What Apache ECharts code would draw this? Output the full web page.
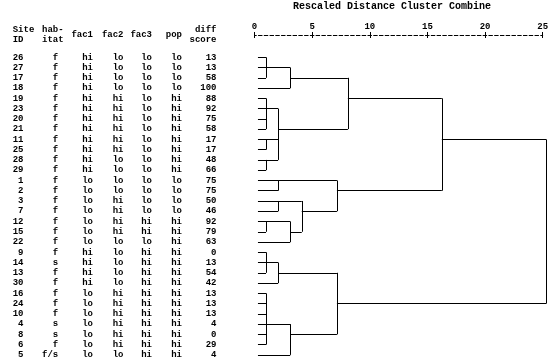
<!DOCTYPE html>
<html><head><meta charset="utf-8">
<script src="https://cdn.jsdelivr.net/npm/echarts@6/dist/echarts.min.js"></script>
<style>html,body{margin:0;padding:0;background:#fff}#c{width:552px;height:360px}</style>
</head><body><div id="c"></div>
<script>
// ---- data ----
const siteIds = ['26','27','17','18','19','23','20','21','11','25','28','29','1','2','3','7','12','15','22','9','14','13','30','16','24','10','4','8','6','5'];
const habitat = ['f','f','f','f','f','f','f','f','f','f','f','f','f','f','f','f','f','f','f','f','s','f','f','f','f','f','s','s','f','f/s'];
const fac1 = ['hi','hi','hi','hi','hi','hi','hi','hi','hi','hi','hi','hi','lo','lo','lo','lo','lo','lo','lo','hi','hi','hi','hi','lo','lo','lo','lo','lo','lo','lo'];
const fac2 = ['lo','lo','lo','lo','hi','hi','hi','hi','hi','hi','lo','lo','lo','lo','hi','hi','hi','hi','lo','lo','lo','lo','lo','hi','hi','hi','hi','hi','hi','lo'];
const fac3 = ['lo','lo','lo','lo','lo','lo','lo','lo','lo','lo','lo','lo','lo','lo','lo','lo','hi','hi','lo','hi','hi','hi','hi','hi','hi','hi','hi','hi','hi','hi'];
const pop = ['lo','lo','lo','lo','hi','hi','hi','hi','hi','hi','hi','hi','lo','lo','lo','lo','hi','hi','hi','hi','hi','hi','hi','hi','hi','hi','hi','hi','hi','hi'];
const diffScore = ['13','13','58','100','88','92','75','58','17','17','48','66','75','75','50','46','92','79','63','0','13','54','42','13','13','13','4','0','29','4'];
const distTicks = [0, 5, 10, 15, 20, 25];
const leafStart = 0.3;
// merges: children are leaf row indices (numbers) or earlier merge ids; dist = rescaled distance; row = row the joined cluster continues on
const merges = [
  {id:'n1', children:[0,1,2], dist:1.0, row:1},
  {id:'n2', children:['n1',3], dist:3.1, row:2},
  {id:'n3', children:[4,5,6,7], dist:1.0, row:5},
  {id:'n4', children:[8,9], dist:1.0, row:8},
  {id:'n5', children:[10,11], dist:1.0, row:10},
  {id:'n6', children:['n3','n4','n5'], dist:2.05, row:7},
  {id:'n7', children:['n2','n6'], dist:8.1, row:4},
  {id:'n8', children:[12,13], dist:2.05, row:12},
  {id:'n9', children:[14,15], dist:2.05, row:14},
  {id:'n10', children:[16,17], dist:1.0, row:16},
  {id:'n11', children:['n10',18], dist:3.1, row:17},
  {id:'n12', children:['n9','n11'], dist:4.1, row:15},
  {id:'n13', children:['n8','n12'], dist:7.15, row:13},
  {id:'n14', children:['n7','n13'], dist:16.25, row:8},
  {id:'n15', children:[19,20,21], dist:1.0, row:20},
  {id:'n16', children:['n15',22], dist:2.05, row:21},
  {id:'n17', children:[23,24,25,26,27,28], dist:1.0, row:26},
  {id:'n18', children:['n17',29], dist:3.1, row:27},
  {id:'n19', children:['n16','n18'], dist:7.15, row:24},
  {id:'n20', children:['n14','n19'], dist:25.3, row:null}
];

// ---- build segments ----
const nodes = {};
const segs = [];
merges.forEach(m => {
  const ys = [];
  m.children.forEach(c => {
    let x0, y;
    if (typeof c === 'number') { x0 = leafStart; y = c; }
    else { x0 = nodes[c].dist; y = nodes[c].row; }
    ys.push(y);
    segs.push({coords: [[x0, y], [m.dist, y]]});
  });
  segs.push({coords: [[m.dist, Math.min(...ys)], [m.dist, Math.max(...ys)]]});
  nodes[m.id] = m;
});

const FONT = '"Liberation Mono", "DejaVu Sans Mono", monospace';
const gridLeft = 254.5;
const rowsIdx = siteIds.map((_, i) => String(i));

function colAxis(data, x, align, name, fmt) {
  return {
    type: 'category', data: data, inverse: true, boundaryGap: false,
    position: 'left', offset: gridLeft - x,
    axisLine: {show: false, onZero: false}, axisTick: {show: false}, splitLine: {show: false},
    axisLabel: {interval: 0, margin: 0, align: align, fontFamily: FONT, fontSize: 9, fontWeight: 'bold', color: '#000',
      padding: [3, 0, 0, 0], formatter: fmt || (v => v)},
    name: name, nameLocation: 'start', nameGap: 22.5,
    nameTextStyle: {align: align, verticalAlign: 'middle', fontFamily: FONT, fontSize: 9, fontWeight: 'bold', color: '#000', lineHeight: 10}
  };
}

const chart = echarts.init(document.getElementById('c'), null, {renderer: 'canvas'});
chart.setOption({
  animation: false,
  backgroundColor: '#fff',
  title: {
    text: 'Rescaled Distance Cluster Combine', left: 392, top: 1, padding: 0, textAlign: 'center',
    textStyle: {fontFamily: FONT, fontSize: 10, fontWeight: 'bold', color: '#000'}
  },
  grid: {left: gridLeft, right: 9.3, top: 57.3, bottom: 5.1, containLabel: false, outerBoundsMode: 'none'},
  xAxis: [
    {type: 'value', position: 'top', offset: 22.3, min: 0, max: 25, interval: 5,
      axisLine: {show: true, onZero: false, lineStyle: {color: '#000', width: 1, type: [3.6, 2.16], dashOffset: 1.8}},
      axisTick: {show: true, inside: false, length: 3, lineStyle: {color: '#000', width: 1}},
      axisLabel: {margin: 4, fontFamily: FONT, fontSize: 9, fontWeight: 'bold', color: '#000', customValues: distTicks},
      splitLine: {show: false}},
    {type: 'value', position: 'top', offset: 22.3, min: 0, max: 25, interval: 5,
      axisLine: {show: false, onZero: false},
      axisTick: {show: true, inside: true, length: 3, lineStyle: {color: '#000', width: 1}},
      axisLabel: {show: false}, splitLine: {show: false}}
  ],
  yAxis: [
    {type: 'category', data: rowsIdx, inverse: true, boundaryGap: false, show: false},
    colAxis(siteIds, 12.7, 'left', 'Site\nID', v => v.padStart(2, ' ')),
    colAxis(habitat, 42, 'left', 'hab-\nitat', v => v.padStart(3, ' ')),
    colAxis(fac1, 93, 'right', 'fac1'),
    colAxis(fac2, 123.5, 'right', 'fac2'),
    colAxis(fac3, 152, 'right', 'fac3'),
    colAxis(pop, 182, 'right', 'pop'),
    colAxis(diffScore, 216.5, 'right', 'diff\nscore')
  ],
  series: [{
    type: 'lines', coordinateSystem: 'cartesian2d', xAxisIndex: 0, yAxisIndex: 0,
    clip: false, silent: true,
    lineStyle: {color: '#000', width: 1, opacity: 1, curveness: 0},
    data: segs
  }]
});
</script></body></html>
